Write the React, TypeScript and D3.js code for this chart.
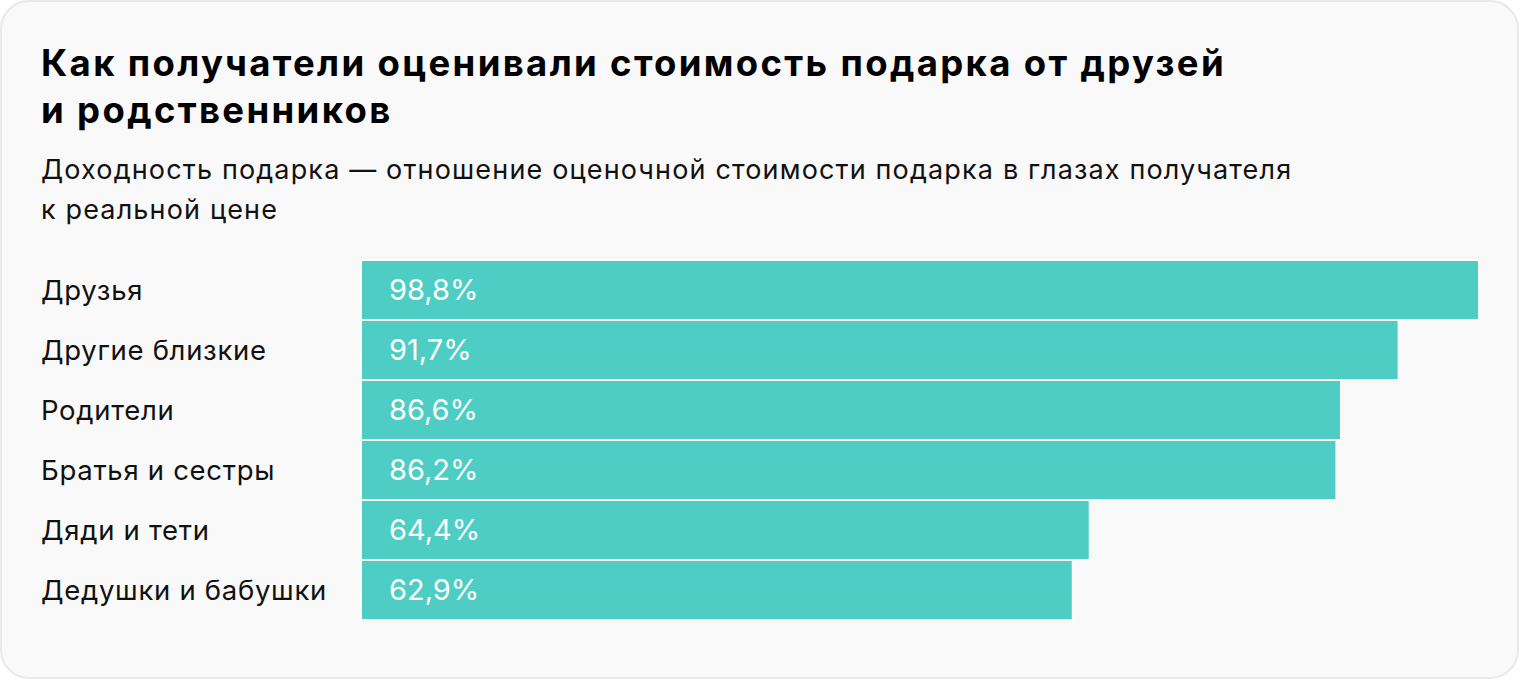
import React from "react";
import * as d3 from "d3";

const categories = [
  "Друзья",
  "Другие близкие",
  "Родители",
  "Братья и сестры",
  "Дяди и тети",
  "Дедушки и бабушки",
];
const values = [98.8, 91.7, 86.6, 86.2, 64.4, 62.9];
const titleLines = [
  "Как получатели оценивали стоимость подарка от друзей",
  "и родственников",
];
const subtitleLines = [
  "Доходность подарка — отношение оценочной стоимости подарка в глазах получателя",
  "к реальной цене",
];

const W = 1520;
const H = 680;
const FONT = "Inter, Roboto, sans-serif";

export default function App() {
  const x = d3.scaleLinear().domain([0, d3.max(values) as number]).range([361, 1479]);
  const y = d3
    .scaleBand<string>()
    .domain(categories)
    .range([260, 620])
    .paddingInner(0);
  const fmt = (v: number) => v.toFixed(1).replace(".", ",") + "%";

  return (
    <svg
      width={W}
      height={H}
      style={{ position: "absolute", left: 0, top: 0, display: "block" }}
    >
      <rect x={1} y={1} width={W - 3} height={H - 3} rx={28} fill="#f9f9f9" stroke="#e9e9e9" strokeWidth={2} />
      {titleLines.map((t, i) => (
        <text key={t} x={41} y={76 + i * 47} fontFamily={FONT} fontSize={36.5} fontWeight={700} letterSpacing={2.35} fill="#000">
          {t}
        </text>
      ))}
      {subtitleLines.map((t, i) => (
        <text key={t} x={41} y={179 + i * 40} fontFamily={FONT} fontSize={27} letterSpacing={1.15} fill="#111">
          {t}
        </text>
      ))}
      {categories.map((c, i) => {
        const y0 = y(c) as number;
        const bh = y.bandwidth();
        return (
          <g key={c}>
            <rect
              x={x(0)}
              y={y0}
              width={x(values[i]) - x(0)}
              height={bh}
              fill="#4ecdc4"
              stroke="#ffffff"
              strokeWidth={2}
            />
            <text x={41} y={y0 + bh / 2 + 10} fontFamily={FONT} fontSize={27.5} letterSpacing={0.7} fill="#111">
              {c}
            </text>
            <text x={389} y={y0 + bh / 2 + 10} fontFamily={FONT} fontSize={29} fill="#fff">
              {fmt(values[i])}
            </text>
          </g>
        );
      })}
    </svg>
  );
}
